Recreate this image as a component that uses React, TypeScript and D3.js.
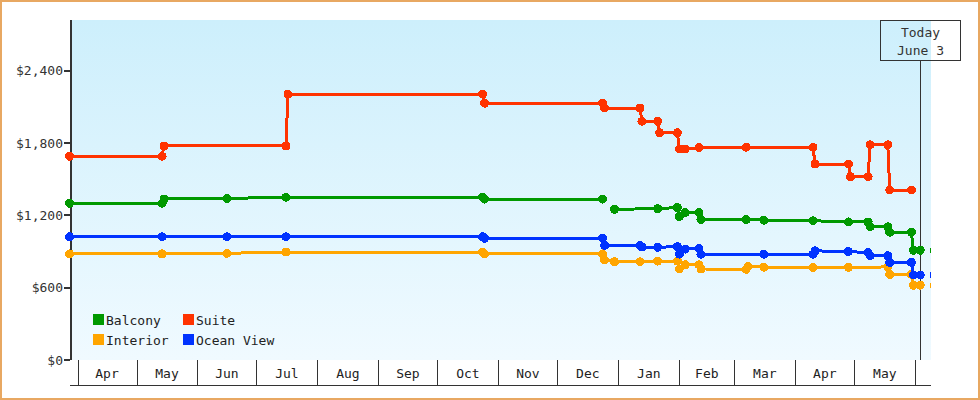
import React, { useEffect, useRef } from "react";
import * as d3 from "d3";

// price history, one pair of arrays per cabin type
const balconyDates = [
  "2012-03-28", "2012-05-14", "2012-05-15", "2012-06-16", "2012-07-16", "2012-10-24", "2012-10-25",
  "2012-12-24", "2012-12-27", "2012-12-30", "2013-01-21", "2013-01-31", "2013-02-01", "2013-02-04",
  "2013-02-11", "2013-02-12", "2013-03-07", "2013-03-16", "2013-04-10", "2013-04-28", "2013-05-08",
  "2013-05-09", "2013-05-18", "2013-05-19", "2013-05-30", "2013-05-31", "2013-06-03T12:00Z", "2013-06-10T12:00Z",
];
const balconyValues = [
  1300, 1300, 1335, 1340, 1350, 1350, 1335,
  1335, null, 1250, 1255, 1265, 1190, 1222,
  1222, 1165, 1165, 1160, 1155, 1145, 1145,
  1105, 1105, 1060, 1060, 910, 910, 910,
];

const suiteDates = [
  "2012-03-28", "2012-05-14", "2012-05-15", "2012-07-16", "2012-07-17", "2012-10-24", "2012-10-25",
  "2012-12-24", "2012-12-25", "2013-01-12", "2013-01-13", "2013-01-21", "2013-01-22", "2013-01-31",
  "2013-02-01", "2013-02-04", "2013-02-11", "2013-03-07", "2013-04-10", "2013-04-11", "2013-04-28",
  "2013-04-29", "2013-05-08", "2013-05-09", "2013-05-18", "2013-05-19", "2013-05-30",
];
const suiteValues = [
  1690, 1690, 1775, 1775, 2205, 2205, 2130,
  2130, 2090, 2090, 1980, 1980, 1885, 1885,
  1750, 1750, 1762, 1765, 1765, 1625, 1625,
  1520, 1520, 1785, 1785, 1410, 1410,
];

const interiorDates = [
  "2012-03-28", "2012-05-14", "2012-06-16", "2012-07-16", "2012-10-24", "2012-10-25", "2012-12-24",
  "2012-12-25", "2012-12-30", "2013-01-12", "2013-01-21", "2013-01-31", "2013-02-01", "2013-02-04",
  "2013-02-11", "2013-02-12", "2013-03-07", "2013-03-08", "2013-03-16", "2013-04-10", "2013-04-28",
  "2013-05-18", "2013-05-19", "2013-05-30", "2013-05-31", "2013-06-03T12:00Z", "2013-06-10T12:00Z",
];
const interiorValues = [
  880, 880, 885, 895, 895, 880, 880,
  830, 815, 815, 820, 820, 755, 790,
  790, 755, 752, 775, 770, 766, 768,
  772, 710, 710, 620, 620, 620,
];

const oceanDates = [
  "2012-03-28", "2012-05-14", "2012-06-16", "2012-07-16", "2012-10-24", "2012-10-25", "2012-12-24",
  "2012-12-25", "2013-01-12", "2013-01-13", "2013-01-21", "2013-01-31", "2013-02-01", "2013-02-04",
  "2013-02-11", "2013-02-12", "2013-03-16", "2013-04-10", "2013-04-11", "2013-04-28", "2013-05-08",
  "2013-05-09", "2013-05-18", "2013-05-19", "2013-05-30", "2013-05-31", "2013-06-03T12:00Z", "2013-06-10T12:00Z",
];
const oceanValues = [
  1022, 1022, 1022, 1022, 1022, 1010, 1010,
  950, 950, 937, 935, 940, 878, 920,
  925, 878, 878, 878, 905, 900, 890,
  865, 865, 808, 810, 705, 705, 705,
];

const seriesNames = ["Balcony", "Suite", "Interior", "Ocean View"];
const seriesColors = ["#009900", "#ff3300", "#ffa500", "#0033ff"];
const yTicks = [0, 600, 1200, 1800, 2400];
const today = "2013-06-03T12:00Z";
const todayLabel = ["Today", "June 3"];

export default function App() {
  const ref = useRef<SVGSVGElement>(null);

  useEffect(() => {
    const width = 980;
    const height = 400;
    const plot = { left: 71, right: 931, top: 20, bottom: 360 };
    const font = "'DejaVu Sans Mono', monospace";

    const svg = d3.select(ref.current);
    svg.selectAll("*").remove();

    const x = d3
      .scaleUtc()
      .domain([new Date("2012-03-28T16:40Z"), new Date("2013-06-08T23:25Z")])
      .range([plot.left, plot.right]);
    const y = d3.scaleLinear().domain([0, 2820]).range([plot.bottom, plot.top]);
    const todayDate = new Date(today);

    const defs = svg.append("defs");
    const grad = defs
      .append("linearGradient")
      .attr("id", "bg")
      .attr("x1", 0).attr("y1", 0).attr("x2", 0).attr("y2", 1);
    grad.append("stop").attr("offset", "0%").attr("stop-color", "#cdeffc");
    grad.append("stop").attr("offset", "100%").attr("stop-color", "#f0faff");
    defs
      .append("clipPath")
      .attr("id", "clip")
      .append("rect")
      .attr("x", 0)
      .attr("y", 0)
      .attr("width", plot.right)
      .attr("height", height);

    svg
      .append("rect")
      .attr("x", 1).attr("y", 1)
      .attr("width", width - 2).attr("height", height - 2)
      .attr("fill", "#fff")
      .attr("stroke", "#e8a862")
      .attr("stroke-width", 2);

    svg
      .append("rect")
      .attr("x", plot.left).attr("y", plot.top)
      .attr("width", plot.right - plot.left).attr("height", plot.bottom - plot.top)
      .attr("fill", "url(#bg)");

    // month boxes under the plot
    const months = d3.utcMonth.range(new Date("2012-04-01"), new Date("2013-06-02"));
    const xAxisG = svg.append("g").attr("shape-rendering", "crispEdges");
    xAxisG
      .selectAll("line.sep")
      .data(months)
      .enter()
      .append("line")
      .attr("class", "sep")
      .attr("x1", (d) => Math.round(x(d)) + 0.5)
      .attr("x2", (d) => Math.round(x(d)) + 0.5)
      .attr("y1", plot.bottom)
      .attr("y2", 385)
      .attr("stroke", "#333");
    xAxisG
      .append("line")
      .attr("x1", plot.left - 1).attr("x2", plot.right)
      .attr("y1", 385.5).attr("y2", 385.5)
      .attr("stroke", "#333");
    xAxisG
      .selectAll("text")
      .data(months.slice(0, -1))
      .enter()
      .append("text")
      .attr("x", (d) => (x(d) + x(d3.utcMonth.offset(d, 1))) / 2)
      .attr("y", 378)
      .attr("text-anchor", "middle")
      .style("font-family", font)
      .style("font-size", "13px")
      .attr("fill", "#222")
      .text((d) => d3.utcFormat("%b")(d));

    // y axis
    const yAxisG = svg.append("g").attr("shape-rendering", "crispEdges");
    yAxisG
      .append("rect")
      .attr("x", plot.left - 1).attr("y", plot.top)
      .attr("width", 2).attr("height", plot.bottom - plot.top)
      .attr("fill", "#333");
    yAxisG
      .selectAll("rect.tick")
      .data(yTicks)
      .enter()
      .append("rect")
      .attr("class", "tick")
      .attr("x", plot.left - 7)
      .attr("y", (d) => Math.round(y(d)) - 1)
      .attr("width", 6)
      .attr("height", 2)
      .attr("fill", "#333");
    yAxisG
      .selectAll("text")
      .data(yTicks)
      .enter()
      .append("text")
      .attr("x", 63)
      .attr("y", (d) => y(d))
      .attr("dy", "0.35em")
      .attr("text-anchor", "end")
      .style("font-family", font)
      .style("font-size", "13px")
      .attr("fill", "#333")
      .text((d) => d3.format("$,")(d));

    // today marker
    const tx = Math.round(x(todayDate)) + 0.5;
    svg
      .append("line")
      .attr("x1", tx).attr("x2", tx)
      .attr("y1", 60).attr("y2", plot.bottom)
      .attr("stroke", "#333");
    svg
      .append("rect")
      .attr("x", tx - 40).attr("y", 20.5)
      .attr("width", 80).attr("height", 40)
      .attr("fill", "none")
      .attr("stroke", "#333");
    svg
      .selectAll("text.today")
      .data(todayLabel)
      .enter()
      .append("text")
      .attr("class", "today")
      .attr("x", tx)
      .attr("y", (d, i) => 37 + i * 18)
      .attr("text-anchor", "middle")
      .style("font-family", font)
      .style("font-size", "13px")
      .attr("fill", "#333")
      .text((d) => d);

    // series
    const series = [
      { dates: balconyDates, values: balconyValues },
      { dates: suiteDates, values: suiteValues },
      { dates: interiorDates, values: interiorValues },
      { dates: oceanDates, values: oceanValues },
    ].map((s, i) => ({
      name: seriesNames[i],
      color: seriesColors[i],
      points: s.dates.map((d, j) => ({ date: new Date(d), value: s.values[j] })),
    }));

    const line = d3
      .line<{ date: Date; value: number | null }>()
      .defined((d) => d.value != null)
      .x((d) => x(d.date))
      .y((d) => y(d.value as number));

    const marks = svg.append("g").attr("clip-path", "url(#clip)");
    const order = [0, 2, 3, 1];
    order.forEach((i) => {
      const s = series[i];
      marks
        .append("path")
        .datum(s.points.filter((p) => p.date <= todayDate))
        .attr("d", line)
        .attr("fill", "none")
        .attr("stroke", s.color)
        .attr("stroke-width", 3)
        .attr("shape-rendering", "crispEdges");
      marks
        .selectAll(null)
        .data(s.points.filter((p) => p.value != null))
        .enter()
        .append("circle")
        .attr("cx", (d) => x(d.date))
        .attr("cy", (d) => y(d.value as number))
        .attr("r", 4.5)
        .attr("fill", s.color)
        .attr("shape-rendering", "crispEdges");
    });

    // legend
    const legend = svg.append("g");
    series.forEach((s, i) => {
      const lx = i % 2 === 0 ? 93 : 183;
      const ly = i < 2 ? 314 : 334;
      legend
        .append("rect")
        .attr("x", lx).attr("y", ly)
        .attr("width", 11).attr("height", 11)
        .attr("fill", s.color);
      legend
        .append("text")
        .attr("x", lx + 13)
        .attr("y", ly + 11)
        .style("font-family", font)
        .style("font-size", "13px")
        .attr("fill", "#222")
        .text(s.name);
    });
  }, []);

  return (
    <svg
      ref={ref}
      width={980}
      height={400}
      style={{ position: "absolute", left: 0, top: 0, display: "block" }}
    />
  );
}
